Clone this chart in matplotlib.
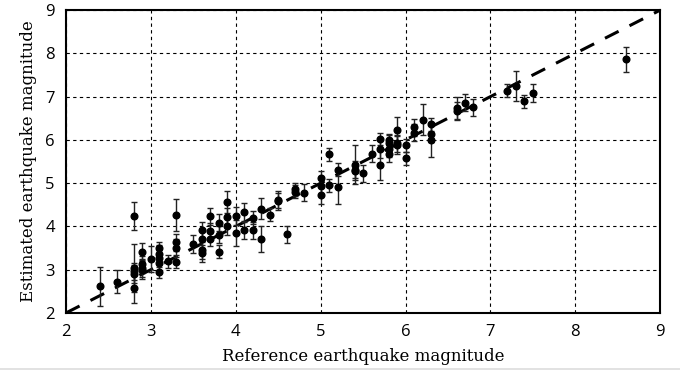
import matplotlib
matplotlib.use('Agg')
import matplotlib.pyplot as plt
from matplotlib.lines import Line2D
import numpy as np

# reference vs estimated magnitude, with error bar half-widths
ref_mag = [2.4, 2.6, 2.8, 2.8, 2.8, 2.8, 2.8, 2.9, 2.9, 2.9, 2.9, 3.0,
           3.1, 3.1, 3.1, 3.1, 3.1, 3.2, 3.3, 3.3, 3.3, 3.3, 3.5,
           3.6, 3.6, 3.6, 3.6, 3.7, 3.7, 3.7, 3.8, 3.8, 3.8,
           3.9, 3.9, 3.9, 4.0, 4.0, 4.1, 4.1, 4.2, 4.2, 4.3, 4.3, 4.4,
           4.5, 4.5, 4.6, 4.7, 4.7, 4.8, 5.0, 5.0, 5.0, 5.1, 5.1,
           5.2, 5.2, 5.4, 5.4, 5.4, 5.5, 5.6, 5.7, 5.7, 5.7,
           5.8, 5.8, 5.8, 5.8, 5.9, 5.9, 5.9, 6.0, 6.0, 6.1, 6.1, 6.2,
           6.3, 6.3, 6.3, 6.6, 6.6, 6.7, 6.8, 7.2, 7.3, 7.4, 7.5, 8.6]
est_mag = [2.62, 2.72, 4.24, 3.04, 2.96, 2.90, 2.57, 3.42, 3.12, 3.04, 2.99, 3.24,
           3.50, 3.36, 3.26, 3.16, 2.95, 3.20, 4.27, 3.63, 3.50, 3.18, 3.59,
           3.91, 3.71, 3.45, 3.38, 4.23, 3.89, 3.70, 4.09, 3.81, 3.41,
           4.56, 4.22, 4.01, 4.24, 3.84, 4.33, 3.91, 4.20, 3.91, 4.41, 3.70, 4.27,
           4.62, 4.58, 3.82, 4.86, 4.80, 4.78, 5.13, 4.94, 4.72, 5.67, 4.95,
           5.31, 4.91, 5.43, 5.31, 5.27, 5.23, 5.68, 6.02, 5.79, 5.42,
           5.99, 5.92, 5.80, 5.68, 6.22, 5.92, 5.88, 5.88, 5.58, 6.29, 6.17, 6.47,
           6.36, 6.14, 6.00, 6.73, 6.67, 6.86, 6.75, 7.13, 7.24, 6.89, 7.08, 7.86]
err = [0.45, 0.27, 0.33, 0.55, 0.20, 0.20, 0.33, 0.20, 0.20, 0.20, 0.20, 0.30,
       0.15, 0.20, 0.20, 0.20, 0.15, 0.15, 0.37, 0.20, 0.20, 0.15, 0.20,
       0.20, 0.20, 0.20, 0.20, 0.20, 0.20, 0.15, 0.20, 0.20, 0.15,
       0.25, 0.20, 0.20, 0.20, 0.30, 0.20, 0.20, 0.15, 0.20, 0.25, 0.30, 0.15,
       0.20, 0.20, 0.20, 0.15, 0.15, 0.20, 0.15, 0.20, 0.20, 0.15, 0.15,
       0.15, 0.40, 0.45, 0.20, 0.20, 0.20, 0.20, 0.15, 0.20, 0.35,
       0.15, 0.20, 0.20, 0.20, 0.30, 0.20, 0.20, 0.15, 0.15, 0.20, 0.20, 0.35,
       0.15, 0.20, 0.40, 0.25, 0.20, 0.20, 0.20, 0.15, 0.35, 0.15, 0.20, 0.28]

ticks = [2, 3, 4, 5, 6, 7, 8, 9]

fig = plt.figure(figsize=(6.8, 3.73), dpi=100)
ax = fig.add_axes([0.097, 0.161, 0.874, 0.812])

ax.plot([2, 9], [2, 9], color='black', linestyle=(0, (5, 4)), linewidth=2.2, zorder=2)
ax.errorbar(ref_mag, est_mag, yerr=err, fmt='o', color='black', markersize=4.8,
            ecolor='#222222', elinewidth=1.0, capsize=2.5, capthick=1.0, zorder=3)

ax.set_xlim(2, 9)
ax.set_ylim(2, 9)
ax.set_xticks(ticks)
ax.set_yticks(ticks)
ax.grid(True, color='black', linestyle=(0, (3, 3)), linewidth=0.8)
ax.set_axisbelow(True)
for s in ax.spines.values():
    s.set_linewidth(1.5)
ax.tick_params(length=0, pad=8, labelsize=12)
for lab in ax.get_xticklabels() + ax.get_yticklabels():
    lab.set_family('Open Sans')

ax.set_xlabel('Reference earthquake magnitude', family='DejaVu Serif', fontsize=12, labelpad=6)
ax.set_ylabel('Estimated earthquake magnitude', family='DejaVu Serif', fontsize=12, labelpad=6)

fig.add_artist(Line2D([0, 1], [0.012, 0.012], color='#dddddd', linewidth=1.2, transform=fig.transFigure))

fig.savefig('out.png', dpi=100)
